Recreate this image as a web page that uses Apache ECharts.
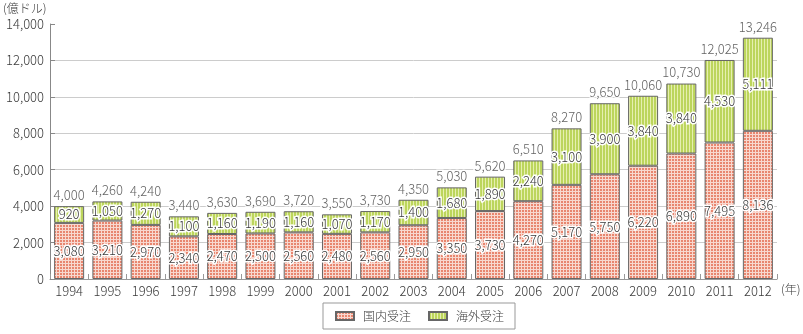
<!DOCTYPE html>
<html>
<head>
<meta charset="utf-8">
<script src="https://cdn.jsdelivr.net/npm/echarts@6/dist/echarts.min.js"></script>
<style>
  html, body { margin: 0; padding: 0; background: #fff; }
  #chart { width: 803px; height: 334px; }
</style>
</head>
<body>
<div id="chart"></div>
<script>
// Years on the category axis
const years = ['1994','1995','1996','1997','1998','1999','2000','2001','2002','2003',
               '2004','2005','2006','2007','2008','2009','2010','2011','2012'];
// 国内受注 (億ドル)
const domestic = [3080, 3210, 2970, 2340, 2470, 2500, 2560, 2480, 2560, 2950,
                  3350, 3730, 4270, 5170, 5750, 6220, 6890, 7495, 8136];
// 海外受注 (億ドル)
const overseas = [920, 1050, 1270, 1100, 1160, 1190, 1160, 1070, 1170, 1400,
                  1680, 1890, 2240, 3100, 3900, 3840, 3840, 4530, 5111];
// 合計 (億ドル)
const totals = [4000, 4260, 4240, 3440, 3630, 3690, 3720, 3550, 3730, 4350,
                5030, 5620, 6510, 8270, 9650, 10060, 10730, 12025, 13246];
// Value-axis ticks
const yTicks = [0, 2000, 4000, 6000, 8000, 10000, 12000, 14000];

const FONT = '"Noto Sans CJK JP", "Noto Sans", sans-serif';
const WEIGHT = 300;
const TEXT = '#3a3a3a';
const fmt = v => Number(v).toLocaleString('en-US');

// Small tiled fills: red check for domestic, green stripes for overseas
function checkPattern() {
  const c = document.createElement('canvas');
  c.width = 3; c.height = 3;
  const g = c.getContext('2d');
  g.fillStyle = '#f8d8cf'; g.fillRect(0, 0, 3, 3);
  g.fillStyle = '#e8866f'; g.fillRect(0, 0, 2, 2);
  return c;
}
function stripePattern() {
  const c = document.createElement('canvas');
  c.width = 3; c.height = 3;
  const g = c.getContext('2d');
  g.fillStyle = '#e6efb0'; g.fillRect(0, 0, 3, 3);
  g.fillStyle = '#bcd55c'; g.fillRect(0, 0, 2, 3);
  return c;
}
const redFill = { image: checkPattern(), repeat: 'repeat' };
const greenFill = { image: stripePattern(), repeat: 'repeat' };

const valueLabel = {
  show: true,
  position: 'inside',
  fontFamily: FONT,
  fontWeight: WEIGHT,
  fontSize: 13,
  color: TEXT,
  textBorderColor: '#fff',
  textBorderWidth: 3,
  formatter: p => fmt(p.value)
};

const chart = echarts.init(document.getElementById('chart'), null, { renderer: 'canvas' });
chart.setOption({
  animation: false,
  textStyle: { fontFamily: FONT, fontWeight: WEIGHT },
  grid: { left: 50, right: 26, top: 24, bottom: 55, containLabel: false },
  legend: {
    data: ['国内受注', '海外受注'],
    left: 323, top: 303,
    padding: [7, 11, 7, 12],
    itemWidth: 18, itemHeight: 8, itemGap: 17,
    borderColor: '#999', borderWidth: 1,
    icon: 'rect',
    textStyle: { fontFamily: FONT, fontWeight: WEIGHT, fontSize: 12, color: TEXT, padding: [0, 0, 0, 4] }
  },
  xAxis: {
    type: 'category',
    data: years,
    axisLine: { lineStyle: { color: '#999', width: 1 } },
    axisTick: { show: true, inside: true, length: 5, lineStyle: { color: '#999' } },
    axisLabel: { fontFamily: FONT, fontWeight: WEIGHT, fontSize: 13, color: TEXT, margin: 6 }
  },
  yAxis: {
    type: 'value',
    min: yTicks[0], max: yTicks[yTicks.length - 1], interval: 2000,
    axisLine: { show: true, lineStyle: { color: '#888', width: 1 } },
    axisTick: { show: true, inside: true, length: 5, lineStyle: { color: '#888' } },
    axisLabel: { fontFamily: FONT, fontWeight: WEIGHT, fontSize: 13, color: TEXT, margin: 6, formatter: v => fmt(v) },
    splitLine: {
      show: true,
      lineStyle: { color: ['#ccc', '#ccc', '#ccc', '#ccc', '#ccc', '#ccc', '#ccc', 'rgba(0,0,0,0)'], width: 1 }
    }
  },
  series: [
    {
      name: '国内受注', type: 'bar', stack: 'total', barWidth: 30,
      data: domestic,
      itemStyle: { color: redFill, borderColor: '#666', borderWidth: 1 },
      label: valueLabel
    },
    {
      name: '海外受注', type: 'bar', stack: 'total', barWidth: 30,
      data: overseas,
      itemStyle: { color: greenFill, borderColor: '#666', borderWidth: 1 },
      label: valueLabel
    },
    {
      name: '合計', type: 'scatter',
      data: totals,
      symbolSize: 1,
      itemStyle: { color: 'rgba(0,0,0,0)' },
      label: Object.assign({}, valueLabel, { position: 'top', distance: 4 }),
      z: 5
    }
  ],
  graphic: [
    { type: 'text', left: 3, top: 2, style: { text: '(億ドル)', fontFamily: FONT, fontWeight: WEIGHT, fontSize: 12, fill: TEXT } },
    { type: 'text', left: 781, top: 283, style: { text: '(年)', fontFamily: FONT, fontWeight: WEIGHT, fontSize: 12, fill: TEXT } }
  ]
});
</script>
</body>
</html>
